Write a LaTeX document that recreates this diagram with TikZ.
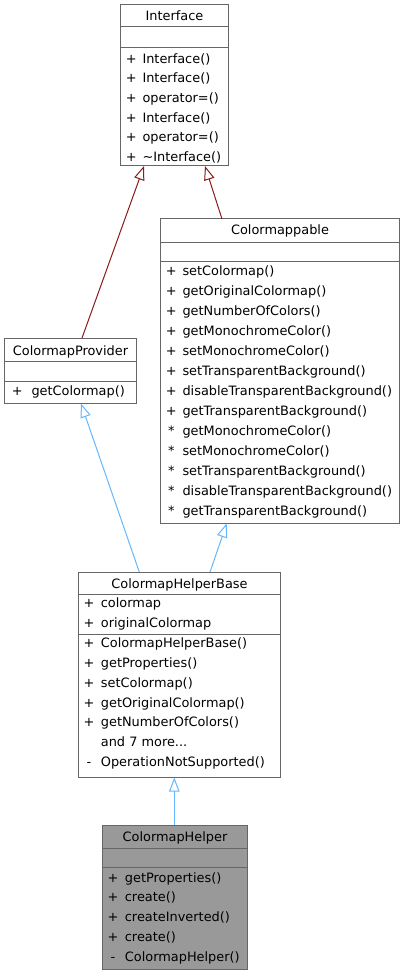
\documentclass[tikz,border=0pt]{standalone}
\usepackage{fontspec}
\setmainfont{DejaVu Sans}
\usetikzlibrary{arrows.meta,calc}
\definecolor{bord}{HTML}{666666}
\definecolor{focusfill}{HTML}{999999}
\definecolor{privedge}{HTML}{8B1A1A}
\definecolor{pubedge}{HTML}{63B8FF}
\newcommand\dxfont{\fontsize{12.9}{15}\selectfont}
\tikzset{
  classbox/.style={draw=bord, line width=1pt, rectangle, inner sep=0pt, outer sep=0pt, anchor=north west},
  sepline/.style={draw=bord, line width=1pt},
  ttl/.style={anchor=base, inner sep=0pt, font=\dxfont},
  mem/.style={anchor=base west, inner sep=0pt, font=\dxfont},
  vis/.style={anchor=base, inner sep=0pt, font=\dxfont},
  inh/.style={line width=1pt, -{Triangle[open, length=14pt, width=10.5pt, fill=white]}},
}
\begin{document}
\begin{tikzpicture}[x=1pt, y=-1pt]
\fill[white] (0,0) rectangle (405,976);
\useasboundingbox (0,0) rectangle (405,976);

% ---------- Interface ----------
\node[classbox, minimum width=108pt, minimum height=161pt] (iface) at (120.5,5) {};
\draw[sepline] (120.5,27) -- (228.5,27);
\draw[sepline] (120.5,48) -- (228.5,48);
\node[ttl] (ifacet) at (174.5,21) {Interface};
\foreach \n [count=\i from 0] in {Interface(),Interface(),operator=(),Interface(),operator=(),\textasciitilde Interface()} {
  \node[vis] (ifacev\i) at (131.3,63.3+19.67*\i) {+};
  \node[mem] (ifacem\i) at (142.3,63.3+19.67*\i) {\n};
}

% ---------- Colormappable ----------
\node[classbox, minimum width=239pt, minimum height=304.5pt] (cmapp) at (160.5,219) {};
\draw[sepline] (160.5,242.3) -- (399.5,242.3);
\draw[sepline] (160.5,261.7) -- (399.5,261.7);
\node[ttl] (cmappt) at (280,235) {Colormappable};
\foreach \s/\n [count=\i from 0] in {+/setColormap(),+/getOriginalColormap(),+/getNumberOfColors(),+/getMonochromeColor(),+/setMonochromeColor(),+/setTransparentBackground(),+/disableTransparentBackground(),+/getTransparentBackground(),*/getMonochromeColor(),*/setMonochromeColor(),*/setTransparentBackground(),*/disableTransparentBackground(),*/getTransparentBackground()} {
  \node[vis] (cmappv\i) at (171.3,275+20*\i) {\s};
  \node[mem] (cmappm\i) at (182.3,275+20*\i) {\n};
}

% ---------- ColormapProvider ----------
\node[classbox, minimum width=132pt, minimum height=65.5pt] (prov) at (4.5,338) {};
\draw[sepline] (4.5,361.7) -- (136.5,361.7);
\draw[sepline] (4.5,381.7) -- (136.5,381.7);
\node[ttl] (provt) at (70.5,355) {ColormapProvider};
\node[vis] (provv0) at (17.3,395) {+};
\node[mem] (provm0) at (31.3,395) {getColormap()};

% ---------- ColormapHelperBase ----------
\node[classbox, minimum width=202pt, minimum height=205.5pt] (hbase) at (78.5,572) {};
\draw[sepline] (78.5,594) -- (280.5,594);
\draw[sepline] (78.5,634) -- (280.5,634);
\node[ttl] (hbaset) at (179.5,588.3) {ColormapHelperBase};
\foreach \n [count=\i from 0] in {colormap,originalColormap} {
  \node[vis] (hbaseav\i) at (89,607+20*\i) {+};
  \node[mem] (hbaseam\i) at (100.7,607+20*\i) {\n};
}
\foreach \n [count=\i from 0] in {ColormapHelperBase(),getProperties(),setColormap(),getOriginalColormap(),getNumberOfColors()} {
  \node[vis] (hbasev\i) at (89,647.3+19.9*\i) {+};
  \node[mem] (hbasem\i) at (100.7,647.3+19.9*\i) {\n};
}
\node[mem] (hbasem5) at (100.7,647.3+19.9*5) {and 7 more...};
\node[vis] (hbasev6) at (89,647.3+19.9*6) {-};
\node[mem] (hbasem6) at (100.7,647.3+19.9*6) {OperationNotSupported()};

% ---------- ColormapHelper ----------
\node[classbox, fill=focusfill, minimum width=145pt, minimum height=144.5pt] (helper) at (102.5,825) {};
\draw[sepline] (102.5,848.3) -- (247.5,848.3);
\draw[sepline] (102.5,867.7) -- (247.5,867.7);
\node[ttl] (helpert) at (175,841.7) {ColormapHelper};
\foreach \s/\n [count=\i from 0] in {+/getProperties(),+/create(),+/createInverted(),+/create(),-/ColormapHelper()} {
  \node[vis] (helperv\i) at (113,882+19.9*\i) {\s};
  \node[mem] (helperm\i) at (124.7,882+19.9*\i) {\n};
}

% ---------- inheritance connectors ----------
\draw[inh, privedge] ([xshift=77.5pt]prov.north west) -- ([xshift=23.5pt]iface.south west);
\draw[inh, privedge] ([xshift=61.5pt]cmapp.north west) -- ([xshift=84.5pt]iface.south west);
\draw[inh, pubedge] ([xshift=60.8pt]hbase.north west) -- ([xshift=76.5pt]prov.south west);
\draw[inh, pubedge] ([xshift=131.5pt]hbase.north west) -- ([xshift=66.2pt]cmapp.south west);
\draw[inh, pubedge] ([xshift=71.8pt]helper.north west) -- ([xshift=95.8pt]hbase.south west);
\end{tikzpicture}
\end{document}
